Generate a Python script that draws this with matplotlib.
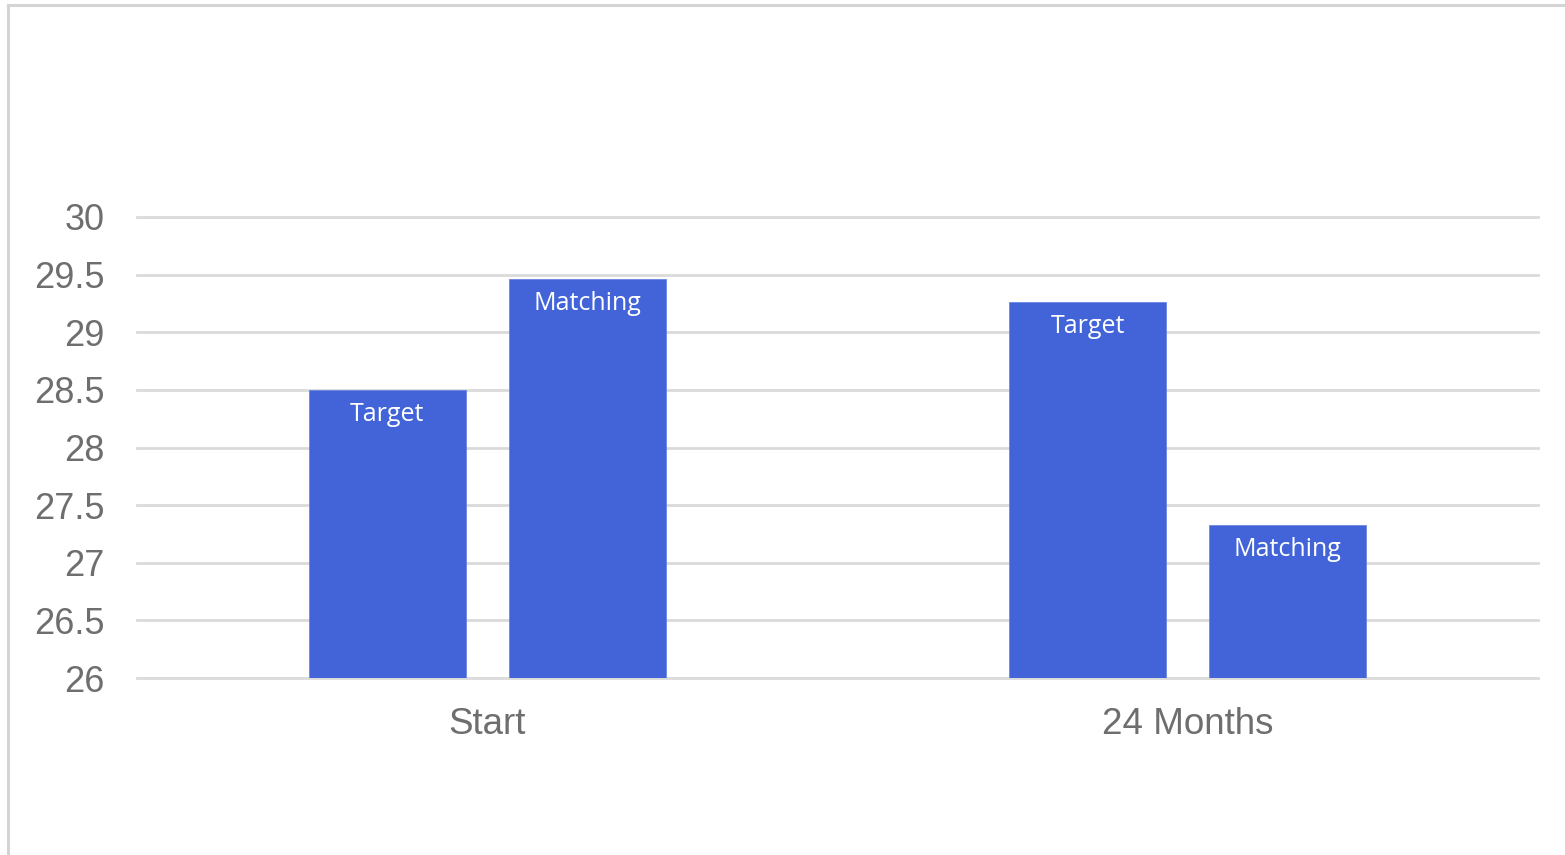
import numpy as np
import matplotlib.pyplot as plt
from matplotlib.lines import Line2D

# chart data
categories = ["Start", "24 Months"]
series_names = ["Target", "Matching"]
target_vals = [28.5, 29.26]
matching_vals = [29.46, 27.33]
y_ticks = [26, 26.5, 27, 27.5, 28, 28.5, 29, 29.5, 30]
y_tick_labels = ["26", "26.5", "27", "27.5", "28", "28.5", "29", "29.5", "30"]

bar_color = "#4264d8"
grid_color = "#dadada"
text_gray = "#6e6e6e"

plt.rcParams['font.family'] = ['Liberation Sans', 'DejaVu Sans']

fig = plt.figure(figsize=(15.65, 8.55), dpi=100)
ax = fig.add_axes([0.0875, 0.207, 0.8953, 0.5392])

x = np.arange(len(categories))
width = 0.224
offset = 0.1427

bars_t = ax.bar(x - offset, target_vals, width, bottom=0, color=bar_color,
                edgecolor="#6b86e2", linewidth=0.6, zorder=3)
bars_m = ax.bar(x + offset, matching_vals, width, bottom=0, color=bar_color,
                edgecolor="#6b86e2", linewidth=0.6, zorder=3)

# series name inside the top of each bar
for bars, name in [(bars_t, series_names[0]), (bars_m, series_names[1])]:
    for b in bars:
        ax.annotate(name, (b.get_x() + b.get_width() / 2, b.get_height()),
                    xytext=(0, -17.5), textcoords="offset points",
                    ha="center", va="center", color="white", fontsize=18,
                    family=["Open Sans", "DejaVu Sans"], zorder=4)

ax.set_xlim(-0.5, len(categories) - 0.5)
ax.set_ylim(26, 30)
ax.set_yticks(y_ticks)
ax.set_yticklabels(y_tick_labels)
ax.set_xticks(x)
ax.set_xticklabels(categories)

ax.tick_params(axis="y", length=0, pad=23, labelsize=26, labelcolor=text_gray)
ax.tick_params(axis="x", length=0, pad=21, labelsize=26.5, labelcolor=text_gray)

ax.grid(axis="y", color=grid_color, linewidth=2, zorder=0)
ax.grid(axis="x", visible=False)
for gl in ax.get_ygridlines():
    gl.set_clip_on(False)
for s in ax.spines.values():
    s.set_visible(False)

# light frame along top and left edge
fig.add_artist(Line2D([7.5 / 1565, 1], [1 - 5 / 855, 1 - 5 / 855],
                      transform=fig.transFigure, color="#d4d4d4", linewidth=2.2))
fig.add_artist(Line2D([8 / 1565, 8 / 1565], [0, 1 - 5 / 855],
                      transform=fig.transFigure, color="#d4d4d4", linewidth=2.2))

fig.savefig("out.png", dpi=100)
